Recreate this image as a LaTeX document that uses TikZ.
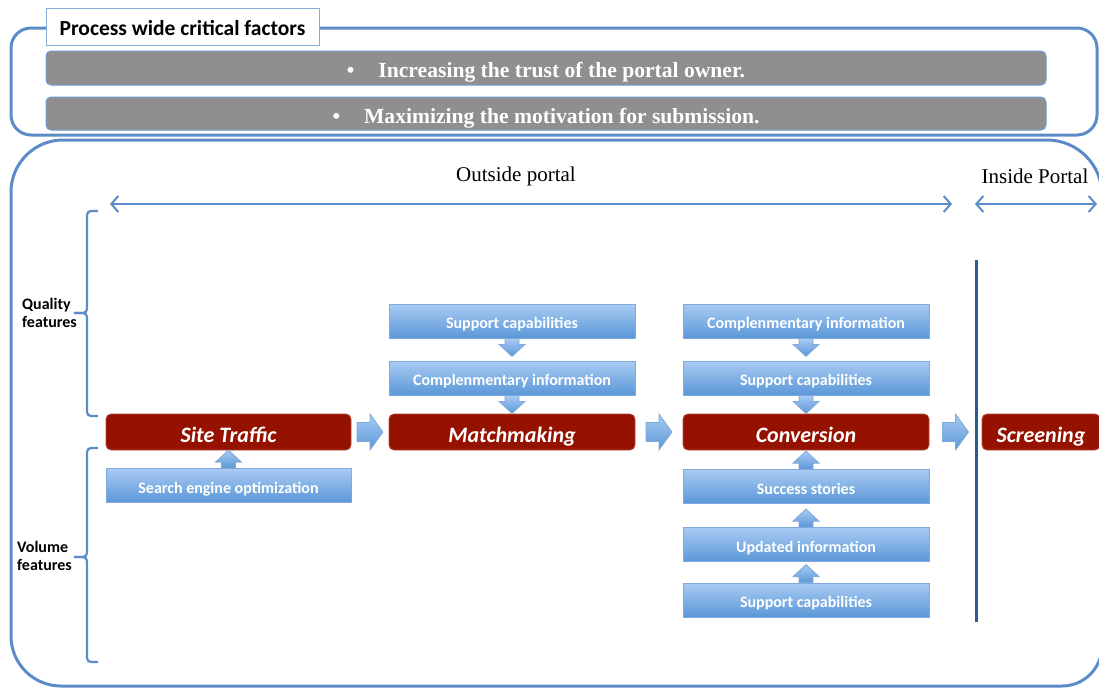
\documentclass[tikz,border=0pt]{standalone}
\usepackage{fontspec}
\setmainfont{Liberation Serif}
\newfontfamily\carl{Carlito}
\usetikzlibrary{arrows.meta,calc}

\definecolor{frameblue}{HTML}{5B8CC8}
\definecolor{darkline}{HTML}{2D5B94}
\definecolor{titleedge}{HTML}{86ACDA}
\definecolor{barGray}{HTML}{8F8F8F}
\definecolor{barEdge}{HTML}{6F9BD1}
\definecolor{redFill}{HTML}{951200}
\definecolor{redEdge}{HTML}{B3473B}
\definecolor{blueTop}{HTML}{A9CBF3}
\definecolor{blueBot}{HTML}{5A97D7}
\definecolor{blueEdge}{HTML}{80AADB}

\tikzset{
  frame/.style={draw=frameblue, line width=3pt},
  titlebox/.style={fill=white, draw=titleedge, line width=1pt, minimum width=273pt,
    minimum height=37pt, inner sep=0pt, text height=17pt, text depth=0pt,
    font=\carl\fontsize{21.5}{24}\selectfont\bfseries},
  factorbar/.style={fill=barGray, draw=barEdge, line width=1pt, rounded corners=5pt,
    minimum width=1000pt, minimum height=34pt, inner sep=0pt, text=white,
    text height=19pt, text depth=0pt, font=\fontsize{21.6}{24}\selectfont\bfseries},
  stagebox/.style={fill=redFill, draw=redEdge, line width=0.8pt, rounded corners=5pt,
    minimum width=246pt, minimum height=36pt, inner sep=0pt, text=white,
    text height=20pt, text depth=0pt, font=\carl\fontsize{22}{26}\selectfont\bfseries\itshape},
  featurebox/.style={top color=blueTop, bottom color=blueBot, draw=blueEdge, line width=0.8pt,
    minimum width=246pt, minimum height=34pt, inner sep=0pt, text=white,
    text height=15pt, text depth=0pt, font=\carl\fontsize{16}{19}\selectfont\bfseries},
  sidelabel/.style={anchor=west, align=left, inner sep=0pt,
    font=\carl\fontsize{16}{18}\selectfont\bfseries},
  zonelabel/.style={inner sep=0pt, font=\fontsize{21}{24}\selectfont},
  brace/.style={draw=frameblue, line width=2.2pt, rounded corners=4pt},
  span/.style={draw=frameblue, line width=2pt,
    {Straight Barb[length=7pt,width=16pt]}-{Straight Barb[length=7pt,width=16pt]}},
  blockarr/.style={top color=blueTop, bottom color=blueBot, draw=blueEdge, line width=0.8pt},
  arrdown/.style={blockarr, to path={(\tikztostart) ++(-7pt,0pt) -- ++(0pt,-6pt)
    -- ++(-6pt,0pt) -- ++(13pt,-12pt) -- ++(13pt,12pt) -- ++(-6pt,0pt) -- ++(0pt,6pt) -- cycle}},
  arrup/.style={blockarr, to path={(\tikztostart) ++(-7pt,0pt) -- ++(0pt,6pt)
    -- ++(-6pt,0pt) -- ++(13pt,12pt) -- ++(13pt,-12pt) -- ++(-6pt,0pt) -- ++(0pt,-6pt) -- cycle}},
  arrright/.style={blockarr, to path={($(\tikztostart)!0.5!(\tikztotarget)$) ++(-13pt,9.5pt)
    -- ++(13pt,0pt) -- ++(0pt,8.5pt) -- ++(13pt,-18pt) -- ++(-13pt,-18pt) -- ++(0pt,8.5pt)
    -- ++(-13pt,0pt) -- cycle}},
}

\begin{document}
\begin{tikzpicture}[x=1pt,y=-1pt]
\useasboundingbox (0,0) rectangle (1099,689);
\clip (0,0) rectangle (1099,689);

% process-wide frame
\draw[frame, rounded corners=20pt] (11,28) rectangle (1097,135);
\node[titlebox] (title) at (182.5,26.5) {Process wide critical factors};
\node[factorbar] (trust) at (546,68) {\textbullet\hspace{24pt}Increasing the trust of the portal owner.};
\node[factorbar, minimum height=33pt] (motiv) at (546,113.5) {\textbullet\hspace{24pt}Maximizing the motivation for submission.};

% main process frame
\draw[frame] (63,140) -- (1047,140) arc[start angle=-90, end angle=0, radius=55]
  -- (1102,646) arc[start angle=0, end angle=90, radius=40]
  -- (61,686) arc[start angle=90, end angle=180, radius=50]
  -- (11,192) arc[start angle=180, end angle=270, radius=52] -- cycle;

% zones
\node[zonelabel] (outside) at (516,176) {Outside portal};
\node[zonelabel] (inside) at (1035,176) {Inside Portal};
\coordinate (oL) at (110,204);
\coordinate (oR) at (952,204);
\coordinate (iL) at (975,204);
\coordinate (iR) at (1097,204);
\draw[span] (oL) -- (oR);
\draw[span] (iL) -- (iR);

\coordinate (divTop) at (976,260);
\coordinate (divBot) at (976,622);
\draw[draw=darkline, line width=3pt] (divTop) -- (divBot);

% feature groups
\draw[brace] (98,211) -- (87,211) -- (87,313) -- (74,313);
\draw[brace] (74,313) -- (87,313) -- (87,416) -- (98,416);
\node[sidelabel] (quality) at (22,313) {Quality\\features};
\draw[brace] (98,448) -- (87,448) -- (87,557) -- (74,557);
\draw[brace] (74,557) -- (87,557) -- (87,662) -- (98,662);
\node[sidelabel] (volume) at (17,556) {Volume\\features};

% stages
\node[stagebox, minimum width=245pt] (traffic) at (228.5,432) {Site Traffic};
\node[stagebox] (match) at (512,432) {Matchmaking};
\node[stagebox] (conv) at (806,432) {Conversion};
\node[stagebox, minimum width=118pt] (screen) at (1041,432) {Screening};

% features
\node[featurebox] (mSupport) at (512,321) {Support capabilities};
\node[featurebox] (mCompl) at (512,378) {Complenmentary information};
\node[featurebox] (cCompl) at (806,321) {Complenmentary information};
\node[featurebox] (cSupport) at (806,378) {Support capabilities};
\node[featurebox] (cSuccess) at (806,486.5) {Success stories};
\node[featurebox] (cUpdated) at (806,544.5) {Updated information};
\node[featurebox] (cSupport2) at (806,600) {Support capabilities};
\node[featurebox, minimum width=245pt] (seo) at (228.5,485.5) {Search engine optimization};

% block arrows
\draw[arrdown] (mSupport.south) to (mCompl.north);
\draw[arrdown] (mCompl.south) to (match.north);
\draw[arrdown] (cCompl.south) to (cSupport.north);
\draw[arrdown] (cSupport.south) to (conv.north);
\draw[arrup] (cSuccess.north) to (conv.south);
\draw[arrup] (cUpdated.north) to (cSuccess.south);
\draw[arrup] (cSupport2.north) to (cUpdated.south);
\draw[arrup] (seo.north) to (traffic.south);
\draw[arrright] (traffic.east) to (match.west);
\draw[arrright] (match.east) to (conv.west);
\draw[arrright] (conv.east) to (screen.west);
\end{tikzpicture}
\end{document}
